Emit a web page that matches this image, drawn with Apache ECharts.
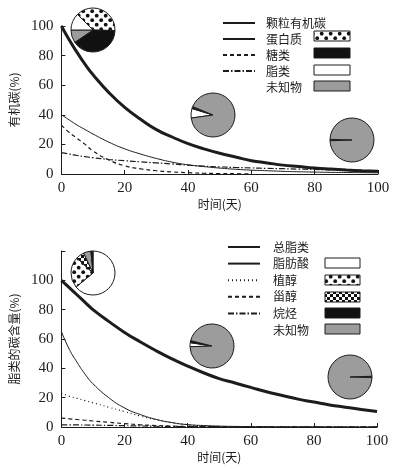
<!DOCTYPE html>
<html>
<head>
<meta charset="utf-8">
<script src="https://cdn.jsdelivr.net/npm/echarts@6/dist/echarts.min.js"></script>
<style>
html,body{margin:0;padding:0;background:#fff}
#main{width:396px;height:471px}
</style>
</head>
<body>
<div id="main"></div>
<script>
// 时间(天)
var days = [0,2.5,5,7.5,10,15,20,25,30,35,40,45,50,55,60,65,70,75,80,85,90,95,100];

// 上图: 有机碳(%)
var poc     = [100,90.5,82,74,67,55,45,37,30,25,20.5,17,14,11.5,9,7.5,6,5,4,3.3,2.7,2.2,1.8];
var protein = [40,36.5,33,30,27,21.5,17,13.5,10.5,8,6.2,5,4,3.2,2.6,2.2,1.8,1.5,1.3,1.1,1,0.9,0.8];
var sugar   = [33,28,24,20,15.5,9.5,5.5,3.5,2.2,1.4,0.9,0.5,0.3,0.2,0.1,null,null,null,null,null,null,null,null];
var lipid   = [14.5,13.5,12.5,11.7,11,9.8,9,8.2,7.5,6.8,6,5.3,4.8,4.4,4.1,3.8,3.6,3.3,3.1,2.8,2.5,2.2,2];

// 下图: 脂类的碳含量(%)
var totalLipid = [100,95,90,85,80,72,64.5,58,52,46.5,41.5,37,33,30,27,24,21.5,19,17,15,13.5,12,10.5];
var fattyAcid  = [65,53,44,36,29.5,20,13,8.5,5.2,3,1.6,1,0.6,0.4,0.3,0.2,0.1,0.1,0.1,0,0,0,0];
var phytol     = [23,21,19.5,18,16.5,13.5,10.5,7.5,5,3,1.6,0.8,0.4,0.2,0.1,0,0,0,0,0,0,0,0];
var sterol     = [6,5.6,5.1,4.6,4.1,3.2,2.3,1.5,1,0.6,0.4,0.3,0.2,0.1,0.1,0,0,0,0,0,0,0,0];
var alkane     = [1.5,1.45,1.4,1.35,1.3,1.1,0.9,0.7,0.5,0.4,0.3,0.2,0.2,0.1,0.1,0.1,0.1,0.1,0.1,0.1,0.1,0.1,0.1];

// 饼图组成 (%)
var pie1Start = [['蛋白质',38],['糖类',40],['未知物',9.5],['脂类',12.5]];
var pie1Mid   = [['脂类',7],['糖类',1],['蛋白质',0.5],['未知物',91.5]];
var pie1End   = [['糖类',1],['未知物',99]];
var pie2Start = [['脂肪酸',64],['植醇',23],['甾醇',6],['未知物',5.5],['烷烃',1.5]];
var pie2Mid   = [['脂肪酸',3],['烷烃',1.5],['未知物',95.5]];
var pie2End   = [['烷烃',1],['未知物',99]];

var ink = '#1c1c1c';
var grey = '#9c9c9c';
var cjk = '"Noto Sans CJK SC", sans-serif';
var serif = '"Liberation Serif", "DejaVu Serif", serif';

function makeDots() {
    var c = document.createElement('canvas');
    c.width = 9; c.height = 9;
    var g = c.getContext('2d');
    g.fillStyle = '#fff'; g.fillRect(0,0,9,9);
    g.fillStyle = '#111';
    g.beginPath(); g.arc(2.2,2.2,1.9,0,Math.PI*2); g.fill();
    g.beginPath(); g.arc(6.7,6.7,1.9,0,Math.PI*2); g.fill();
    return {image: c, repeat: 'repeat'};
}
function makeChecker() {
    var c = document.createElement('canvas');
    c.width = 6; c.height = 6;
    var g = c.getContext('2d');
    g.fillStyle = '#fff'; g.fillRect(0,0,6,6);
    g.fillStyle = '#111';
    g.fillRect(0,0,3,3); g.fillRect(3,3,3,3);
    return {image: c, repeat: 'repeat'};
}
var dots = makeDots();
var checker = makeChecker();

var fills = {
    '蛋白质': dots, '糖类': '#111', '脂类': '#fff', '未知物': grey,
    '脂肪酸': '#fff', '植醇': dots, '甾醇': checker, '烷烃': '#111'
};

function pairs(ys) {
    return days.map(function (d, i) { return [d, ys[i]]; });
}
function line(name, ys, grid, width, type) {
    return {
        name: name, type: 'line', xAxisIndex: grid, yAxisIndex: grid,
        data: pairs(ys), smooth: true, symbol: 'none', connectNulls: false,
        lineStyle: {color: ink, width: width, type: type},
        itemStyle: {color: ink}
    };
}
function pie(items, center, start) {
    return {
        type: 'pie', center: center, radius: 22, startAngle: start,
        label: {show: false}, labelLine: {show: false},
        emphasis: {scale: false}, z: 5,
        itemStyle: {borderColor: ink, borderWidth: 1},
        data: items.map(function (it) {
            return {name: it[0], value: it[1], itemStyle: {color: fills[it[0]]}};
        })
    };
}
function swatch(x, y, w, name) {
    return {
        type: 'rect', shape: {x: x, y: y, width: w, height: 10},
        style: {fill: fills[name], stroke: ink, lineWidth: 1}
    };
}

var axisCommon = {
    axisLine: {lineStyle: {color: ink, width: 1}},
    axisTick: {inside: true, length: 4, lineStyle: {color: ink}},
    splitLine: {show: false}
};
function xAxis(grid) {
    return Object.assign({
        type: 'value', gridIndex: grid, min: 0, max: 100, interval: 20,
        name: '时间(天)', nameLocation: 'middle', nameGap: 24,
        nameTextStyle: {fontFamily: cjk, fontSize: 12, color: ink},
        axisLabel: {fontFamily: serif, fontSize: 15, color: ink, margin: 7}
    }, axisCommon);
}
function yAxis(grid, max, name) {
    return Object.assign({
        type: 'value', gridIndex: grid, min: 0, max: max, interval: 20,
        name: name, nameLocation: 'middle', nameRotate: 90, nameGap: 39,
        nameTextStyle: {fontFamily: cjk, fontSize: 12, color: ink},
        axisLabel: {fontFamily: serif, fontSize: 15, color: ink, margin: 8,
            formatter: function (v) { return v > 100 ? '' : v; }}
    }, axisCommon);
}

var legendText = {fontFamily: cjk, fontSize: 12, color: ink};
var hideSymbol = {color: 'transparent', borderWidth: 0, opacity: 0};

var option = {
    backgroundColor: '#fff',
    animation: false,
    grid: [
        {left: 56, top: 26, width: 322, height: 148},
        {left: 53, top: 251, width: 324, height: 176}
    ],
    xAxis: [xAxis(0), xAxis(1)],
    yAxis: [yAxis(0, 100, '有机碳(%)'), yAxis(1, 120, '脂类的碳含量(%)')],
    legend: [
        {
            orient: 'vertical', left: 217, top: 12, itemWidth: 32, itemHeight: 12, itemGap: 4,
            selectedMode: false, itemStyle: hideSymbol,
            textStyle: Object.assign({padding: [0,0,0,6]}, legendText),
            data: ['颗粒有机碳','蛋白质','糖类','脂类',{name: '未知物', icon: 'rect'}]
        },
        {
            orient: 'vertical', left: 222, top: 236, itemWidth: 32, itemHeight: 12, itemGap: 4.6,
            selectedMode: false, itemStyle: hideSymbol,
            textStyle: Object.assign({padding: [0,0,0,8]}, legendText),
            data: ['总脂类','脂肪酸','植醇','甾醇','烷烃',{name: '未知物', icon: 'rect'}]
        }
    ],
    graphic: [
        swatch(314, 31, 36, '蛋白质'),
        swatch(314, 48, 36, '糖类'),
        swatch(314, 65, 36, '脂类'),
        swatch(314, 81, 36, '未知物'),
        swatch(325, 258, 35, '脂肪酸'),
        swatch(325, 275, 35, '植醇'),
        swatch(325, 292, 35, '甾醇'),
        swatch(325, 308, 35, '烷烃'),
        swatch(325, 324, 35, '未知物')
    ],
    series: [
        line('颗粒有机碳', poc, 0, 3, 'solid'),
        line('蛋白质', protein, 0, 1, 'solid'),
        line('糖类', sugar, 0, 1.2, [4, 3]),
        line('脂类', lipid, 0, 1.2, [6, 2, 1.5, 2]),
        line('总脂类', totalLipid, 1, 3, 'solid'),
        line('脂肪酸', fattyAcid, 1, 1, 'solid'),
        line('植醇', phytol, 1, 1.2, [1, 3]),
        line('甾醇', sterol, 1, 1.2, [4, 3]),
        line('烷烃', alkane, 1, 1.2, [6, 2, 1.5, 2]),
        pie(pie1Start, [93, 30], 135),
        pie(pie1Mid, [213, 115], 188),
        pie(pie1End, [352, 140], 182),
        pie(pie2Start, [93, 273], 90),
        pie(pie2Mid, [212, 346], 182),
        pie(pie2End, [350, 377], 2)
    ]
};

var chart = echarts.init(document.getElementById('main'));
chart.setOption(option);
</script>
</body>
</html>
